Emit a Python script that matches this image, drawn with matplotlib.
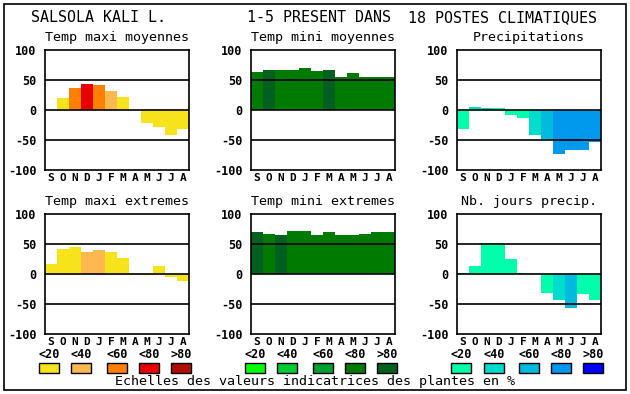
import numpy as np
import matplotlib
matplotlib.use("Agg")
import matplotlib.pyplot as plt
from matplotlib.patches import Rectangle

W, H = 630, 394

months = ["S", "O", "N", "D", "J", "F", "M", "A", "M", "J", "J", "A"]
yticks = [-100, -50, 0, 50, 100]
scale_labels = ["<20", "<40", "<60", "<80", ">80"]

reds = ["#f7e31b", "#ffb84f", "#ff8000", "#e80000", "#b00f00"]
greens = ["#00ff00", "#00cc33", "#00a030", "#007a00", "#006020"]
blues = ["#00ffaa", "#00dccc", "#00bbdd", "#0099ee", "#0000ff"]

titles = ["Temp maxi moyennes", "Temp mini moyennes", "Precipitations",
          "Temp maxi extremes", "Temp mini extremes", "Nb. jours precip."]

# valeurs par mois (S..A) et classe de couleur (0..4)
tmax_moy = [0, 20, 37, 44, 42, 32, 22, 0, -21, -28, -42, -31]
tmax_moy_cls = [0, 0, 2, 3, 2, 1, 0, 0, 0, 0, 0, 0]
tmin_moy = [63, 66, 67, 67, 70, 65, 67, 55, 62, 55, 55, 55]
tmin_moy_cls = [3, 4, 3, 3, 3, 3, 4, 3, 3, 3, 3, 3]
precip = [-31, 5, 3, 3, -8, -14, -41, -49, -73, -66, -66, -54]
precip_cls = [0, 1, 1, 0, 0, 0, 1, 2, 3, 3, 3, 3]
tmax_ext = [17, 42, 45, 37, 40, 37, 27, -2, -2, 13, -5, -11]
tmax_ext_cls = [0, 0, 0, 1, 1, 0, 0, 0, 0, 0, 0, 0]
tmin_ext = [70, 67, 65, 72, 72, 65, 70, 65, 65, 67, 70, 70]
tmin_ext_cls = [4, 3, 4, 3, 3, 3, 3, 3, 3, 3, 3, 3]
nb_jours = [2, 13, 52, 52, 25, 2, 0, -31, -44, -56, -34, -44]
nb_jours_cls = [0, 0, 0, 0, 0, 0, 0, 0, 1, 2, 0, 0]

panels = [
    (tmax_moy, tmax_moy_cls, reds),
    (tmin_moy, tmin_moy_cls, greens),
    (precip, precip_cls, blues),
    (tmax_ext, tmax_ext_cls, reds),
    (tmin_ext, tmin_ext_cls, greens),
    (nb_jours, nb_jours_cls, blues),
]

lefts = [45, 251, 457]
tops = [50, 214]
mono = "DejaVu Sans Mono"

fig = plt.figure(figsize=(W / 100, H / 100), dpi=100)
fig.patches.append(Rectangle((4 / W, 1 - 390 / H), 622 / W, 386 / H,
                             transform=fig.transFigure, fill=False,
                             edgecolor="black", lw=1.2))

x = np.arange(12)
for i, (vals, cls, pal) in enumerate(panels):
    r, c = divmod(i, 3)
    ax = fig.add_axes([lefts[c] / W, 1 - (tops[r] + 120) / H, 144 / W, 120 / H])
    ax.bar(x, vals, width=1.0, color=[pal[k] for k in cls], zorder=1)
    for g in (-50, 0, 50):
        ax.axhline(g, color="black", lw=1.2, zorder=2)
    ax.set_xlim(-0.5, 11.5)
    ax.set_ylim(-100, 100)
    ax.set_xticks(x)
    ax.set_xticklabels(months, fontfamily=mono, fontweight="bold", fontsize=8)
    ax.set_yticks(yticks)
    ax.set_yticklabels([str(v) for v in yticks], fontfamily=mono,
                       fontweight="bold", fontsize=8.5)
    ax.tick_params(length=0, pad=2, axis="x")
    ax.tick_params(length=0, pad=6, axis="y")
    for s in ax.spines.values():
        s.set_linewidth(1.2)
    fig.text((lefts[c] + 72) / W, 1 - (tops[r] - 12) / H, titles[i],
             ha="center", va="center", fontfamily=mono, fontsize=9.6)

# echelles de couleurs
box_x = [[39, 71, 107, 139, 171], [245, 277, 313, 345, 377], [451, 484, 519, 551, 583]]
for pal, xs in zip([reds, greens, blues], box_x):
    for col, x0, lab in zip(pal, xs, scale_labels):
        fig.patches.append(Rectangle((x0 / W, 1 - 373 / H), 20 / W, 10 / H,
                                     transform=fig.transFigure, facecolor=col,
                                     edgecolor="black", lw=1))
        fig.text((x0 + 10) / W, 1 - 354 / H, lab, ha="center", va="center",
                 fontfamily=mono, fontweight="bold", fontsize=8.5)

fig.text(315 / W, 1 - 382 / H, "Echelles des valeurs indicatrices des plantes en %",
         ha="center", va="center", fontfamily=mono, fontsize=9.6)

fig.text(31 / W, 1 - 18 / H, "SALSOLA KALI L.", ha="left", va="center",
         fontfamily=mono, fontsize=10.8)
fig.text(247 / W, 1 - 18 / H, "1-5 PRESENT DANS", ha="left", va="center",
         fontfamily=mono, fontsize=10.8)
fig.text(597 / W, 1 - 18 / H, "18 POSTES CLIMATIQUES", ha="right", va="center",
         fontfamily=mono, fontsize=10.8)

fig.savefig("out.png", dpi=100)
